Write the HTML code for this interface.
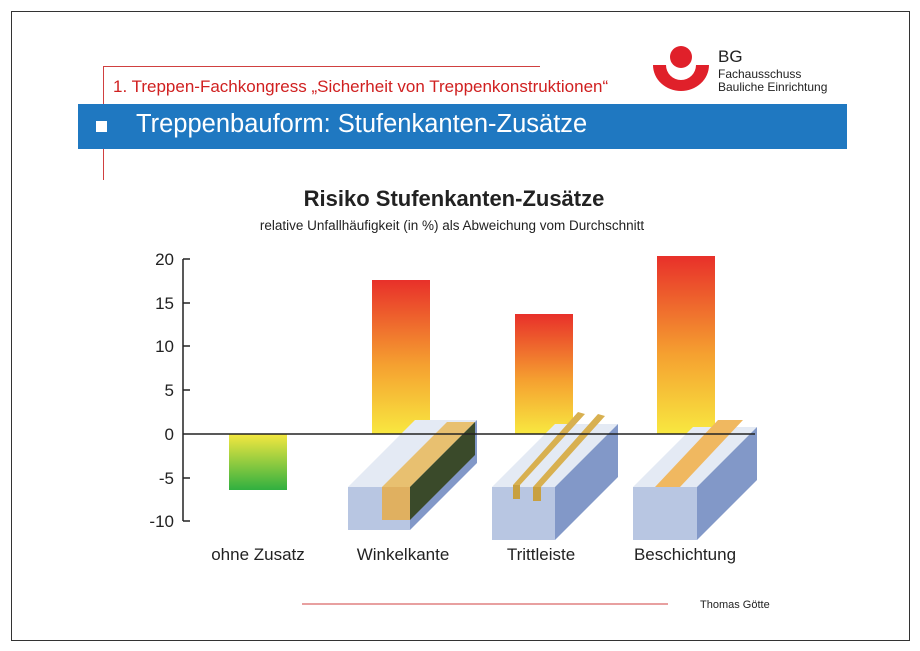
<!DOCTYPE html>
<html><head><meta charset="utf-8"><style>
body{margin:0;width:920px;height:651px;background:#fff;position:relative;overflow:hidden;font-family:"Liberation Sans",sans-serif}
.a{position:absolute}
</style></head><body>
<div class="a" style="left:11px;top:11px;width:897px;height:628px;border:1px solid #333"></div>
<div class="a" style="left:103px;top:66px;width:437px;height:1px;background:#d04040"></div>
<div class="a" style="left:103px;top:66px;width:1px;height:114px;background:#d04040"></div>
<div class="a" style="left:113px;top:77px;font-size:17px;color:#d02020;white-space:nowrap">1. Treppen-Fachkongress „Sicherheit von Treppenkonstruktionen“</div>
<div class="a" style="left:78px;top:104px;width:769px;height:45px;background:#1f78c1"></div>
<div class="a" style="left:96px;top:121px;width:11px;height:11px;background:#fff"></div>
<div class="a" style="left:136px;top:110px;font-size:25.5px;color:#fff;white-space:nowrap">Treppenbauform: Stufenkanten-Zusätze</div>
<svg class="a" style="left:650px;top:45px" width="62" height="48"><circle cx="31" cy="12" r="11" fill="#e0202a"/><path d="M3 20 L16 20 A15 15 0 0 0 46 20 L59 20 A28 26 0 0 1 3 20Z" fill="#e0202a"/></svg>
<div class="a" style="left:718px;top:47px;font-size:17px;color:#222">BG</div>
<div class="a" style="left:718px;top:68px;font-size:12px;line-height:13px;color:#222">Fachausschuss<br>Bauliche Einrichtung</div>
<div class="a" style="left:0;width:920px;top:186px;text-align:center;font-size:22px;font-weight:bold;color:#222"><span style="position:relative;left:-6px">Risiko Stufenkanten-Zusätze</span></div>
<div class="a" style="left:0;width:920px;top:218px;text-align:center;font-size:13.5px;color:#222"><span style="position:relative;left:-8px">relative Unfallhäufigkeit (in %) als Abweichung vom Durchschnitt</span></div>
<svg class="a" style="left:0;top:0" width="920" height="651">
<defs>
<linearGradient id="g" x1="0" y1="0" x2="0" y2="1"><stop offset="0" stop-color="#e8302a"/><stop offset="0.55" stop-color="#f5a030"/><stop offset="1" stop-color="#f8e840"/></linearGradient>
<linearGradient id="n" x1="0" y1="0" x2="0" y2="1"><stop offset="0" stop-color="#f5e840"/><stop offset="1" stop-color="#30b040"/></linearGradient>
</defs>
<rect x="229" y="434" width="58" height="56" fill="url(#n)"/>
<rect x="372" y="280" width="58" height="154" fill="url(#g)"/>
<rect x="515" y="314" width="58" height="120" fill="url(#g)"/>
<rect x="657" y="256" width="58" height="178" fill="url(#g)"/>
<g>
<polygon points="348,487 410,487 477,420 415,420" fill="#e4eaf4"/><polygon points="348,487 410,487 410,530 348,530" fill="#b8c6e2"/><polygon points="410,487 477,420 477,463 410,530" fill="#8298c8"/>
<polygon points="382,487 410,487 475,422 447,422" fill="#e8c070"/><polygon points="410,487 475,422 475,455 410,520" fill="#3a4a2a"/><polygon points="382,487 410,487 410,520 382,520" fill="#e0b060"/>
<polygon points="492,487 555,487 618,424 555,424" fill="#e4eaf4"/><polygon points="492,487 555,487 555,540 492,540" fill="#b8c6e2"/><polygon points="555,487 618,424 618,477 555,540" fill="#8298c8"/>
<polygon points="513,485 520,485 585,414 578,412" fill="#d8b050"/><polygon points="533,487 541,487 605,416 598,414" fill="#d8b050"/>
<rect x="513" y="485" width="7" height="14" fill="#c8a040"/><rect x="533" y="487" width="8" height="14" fill="#c8a040"/>
<polygon points="633,487 697,487 757,427 693,427" fill="#e4eaf4"/><polygon points="633,487 697,487 697,540 633,540" fill="#b8c6e2"/><polygon points="697,487 757,427 757,480 697,540" fill="#8298c8"/>
<polygon points="655,487 680,487 743,420 718,420" fill="#f0b860"/>
</g>
<line x1="183" y1="259" x2="183" y2="521" stroke="#222" stroke-width="1.5"/>
<g stroke="#222" stroke-width="1.5">
<line x1="183" y1="259" x2="190" y2="259"/><line x1="183" y1="303" x2="190" y2="303"/><line x1="183" y1="346" x2="190" y2="346"/><line x1="183" y1="390" x2="190" y2="390"/><line x1="183" y1="478" x2="190" y2="478"/><line x1="183" y1="521" x2="190" y2="521"/>
</g>
<line x1="183" y1="434" x2="755" y2="434" stroke="#222" stroke-width="1.5"/>
<g font-size="17" fill="#222" text-anchor="end">
<text x="174" y="265">20</text><text x="174" y="309">15</text><text x="174" y="352">10</text><text x="174" y="396">5</text><text x="174" y="440">0</text><text x="174" y="484">-5</text><text x="174" y="527">-10</text>
</g>
<g font-size="17" fill="#222" text-anchor="middle">
<text x="258" y="560">ohne Zusatz</text><text x="403" y="560">Winkelkante</text><text x="541" y="560">Trittleiste</text><text x="685" y="560">Beschichtung</text>
</g>
<line x1="302" y1="604" x2="668" y2="604" stroke="#d04040" stroke-width="1"/>
</svg>
<div class="a" style="left:700px;top:599px;font-size:11px;color:#222">Thomas Götte</div>
</body></html>
